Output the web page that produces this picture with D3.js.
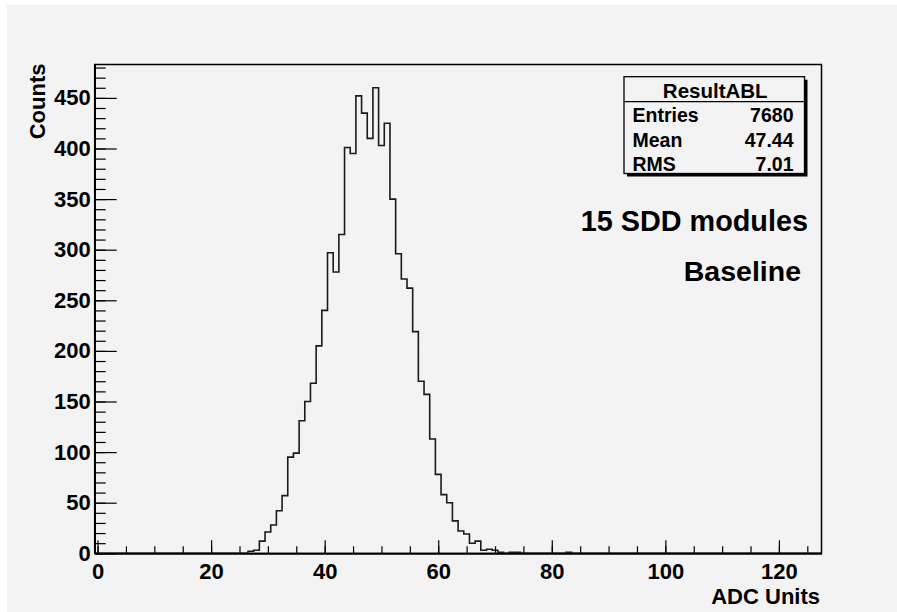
<!DOCTYPE html>
<html>
<head>
<meta charset="utf-8">
<script src="https://cdn.jsdelivr.net/npm/d3@7"></script>
<style>
  body { margin: 0; background: #ffffff; }
  text { font-family: "Liberation Sans", Arial, Helvetica, sans-serif; font-weight: bold; fill: #000; }
</style>
</head>
<body>
<script>
var width = 897;
var height = 612;

// histogram: 128 bins of width 1, centred on 0..127
var binLow = -0.5;
var binHigh = 127.5;
var firstBin = 26;
// counts for bins 26 .. 83 (all other bins are empty)
var counts = [
  0, 2, 3, 12, 21, 28, 42, 57, 95, 99,
  131, 150, 168, 205, 240, 297, 278, 315, 401, 395,
  452, 435, 410, 460, 403, 425, 350, 296, 271, 262,
  219, 170, 157, 113, 78, 58, 50, 32, 22, 19,
  10, 12, 3, 4, 3, 1, 0, 1, 1, 0,
  0, 0, 0, 0, 0, 0, 0, 1
];

var xTicks = [0, 20, 40, 60, 80, 100, 120];
var yTicks = [0, 50, 100, 150, 200, 250, 300, 350, 400, 450];
var statNames = ["Entries", "Mean", "RMS"];
var statValues = ["7680", "47.44", "7.01"];
var histName = "ResultABL";
var notes = ["15 SDD modules", "Baseline"];

var bins = [];
for (var b = 0; b < binHigh - binLow; b++) {
  var c = counts[b - firstBin];
  bins.push({ x0: binLow + b, x1: binLow + b + 1, n: c === undefined ? 0 : c });
}
var yMax = d3.max(bins, function(d) { return d.n; }) * 1.05;

var svg = d3.select("body").append("svg")
  .attr("width", width)
  .attr("height", height);

// pad background
svg.append("rect")
  .attr("x", 7).attr("y", 5)
  .attr("width", width - 7).attr("height", height - 5)
  .attr("fill", "#f3f3f3");

var xScale = d3.scaleLinear().domain([binLow, binHigh]).range([94.7, 821.5]);
var yScale = d3.scaleLinear().domain([0, yMax]).range([553.3, 64.5]);

// frame
svg.append("rect")
  .attr("x", xScale(binLow)).attr("y", yScale(yMax))
  .attr("width", xScale(binHigh) - xScale(binLow))
  .attr("height", yScale(0) - yScale(yMax))
  .attr("fill", "none").attr("stroke", "#000").attr("stroke-width", 1.5);

// histogram outline
var pts = [[xScale(binLow), yScale(0)]];
bins.forEach(function(d) {
  pts.push([xScale(d.x0), yScale(d.n)]);
  pts.push([xScale(d.x1), yScale(d.n)]);
});
pts.push([xScale(binHigh), yScale(0)]);
svg.append("path")
  .attr("d", d3.line()(pts))
  .attr("fill", "none")
  .attr("stroke", "#1a1a1a")
  .attr("stroke-width", 1.6);

// x axis
var xMinor = d3.range(0, 128, 5);
svg.append("g")
  .attr("transform", "translate(0," + yScale(0) + ")")
  .call(d3.axisBottom(xScale).tickValues(xMinor).tickSize(-7).tickSizeOuter(0).tickFormat(""));
var gx = svg.append("g")
  .attr("transform", "translate(0," + yScale(0) + ")")
  .call(d3.axisBottom(xScale).tickValues(xTicks).tickSize(-13).tickSizeOuter(0).tickPadding(10));
gx.selectAll("text").style("font-size", "22px");

// y axis
var yMinor = d3.range(0, yMax, 10);
svg.append("g")
  .attr("transform", "translate(" + xScale(binLow) + ",0)")
  .call(d3.axisLeft(yScale).tickValues(yMinor).tickSize(-11).tickSizeOuter(0).tickFormat(""));
var gy = svg.append("g")
  .attr("transform", "translate(" + xScale(binLow) + ",0)")
  .call(d3.axisLeft(yScale).tickValues(yTicks).tickSize(-22).tickSizeOuter(0).tickPadding(4));
gy.selectAll("text").style("font-size", "22px");

svg.selectAll(".domain").attr("stroke", "#000").attr("stroke-width", 1.5);
svg.selectAll(".tick line").attr("stroke", "#000").attr("stroke-width", 1.2);
svg.selectAll(".tick text").attr("fill", "#000").style("font-family", "'Liberation Sans', Arial, sans-serif").style("font-weight", "bold");

// axis titles
svg.append("text")
  .attr("x", 820).attr("y", 604)
  .attr("text-anchor", "end")
  .style("font-size", "22px")
  .text("ADC Units");

svg.append("text")
  .attr("transform", "translate(45,63.5) rotate(-90)")
  .attr("text-anchor", "end")
  .style("font-size", "22px")
  .text("Counts");

// stats box
var box = { x: 624, y: 76.7, w: 180.5, h: 96.8 };
svg.append("rect")
  .attr("x", box.x + 3).attr("y", box.y + 3)
  .attr("width", box.w).attr("height", box.h)
  .attr("fill", "#000");
svg.append("rect")
  .attr("x", box.x).attr("y", box.y)
  .attr("width", box.w).attr("height", box.h)
  .attr("fill", "#f3f3f3").attr("stroke", "#000").attr("stroke-width", 1.3);
svg.append("line")
  .attr("x1", box.x).attr("x2", box.x + box.w)
  .attr("y1", 101.7).attr("y2", 101.7)
  .attr("stroke", "#000").attr("stroke-width", 1.2);
svg.append("text")
  .attr("x", box.x + box.w / 2 + 1).attr("y", 98.3)
  .attr("text-anchor", "middle")
  .style("font-size", "20.5px")
  .text(histName);

var rowY = [122.3, 146.5, 170.5];
statNames.forEach(function(s, i) {
  svg.append("text")
    .attr("x", 632.5).attr("y", rowY[i])
    .style("font-size", "19.5px")
    .text(s);
  svg.append("text")
    .attr("x", 793.5).attr("y", rowY[i])
    .attr("text-anchor", "end")
    .style("font-size", "19.5px")
    .text(statValues[i]);
});

// labels on the pad
svg.append("text")
  .attr("x", 808).attr("y", 230.5)
  .attr("text-anchor", "end")
  .style("font-size", "28.8px")
  .text(notes[0]);
svg.append("text")
  .attr("x", 801).attr("y", 280.5)
  .attr("text-anchor", "end")
  .style("font-size", "28.5px")
  .text(notes[1]);
</script>
</body>
</html>
